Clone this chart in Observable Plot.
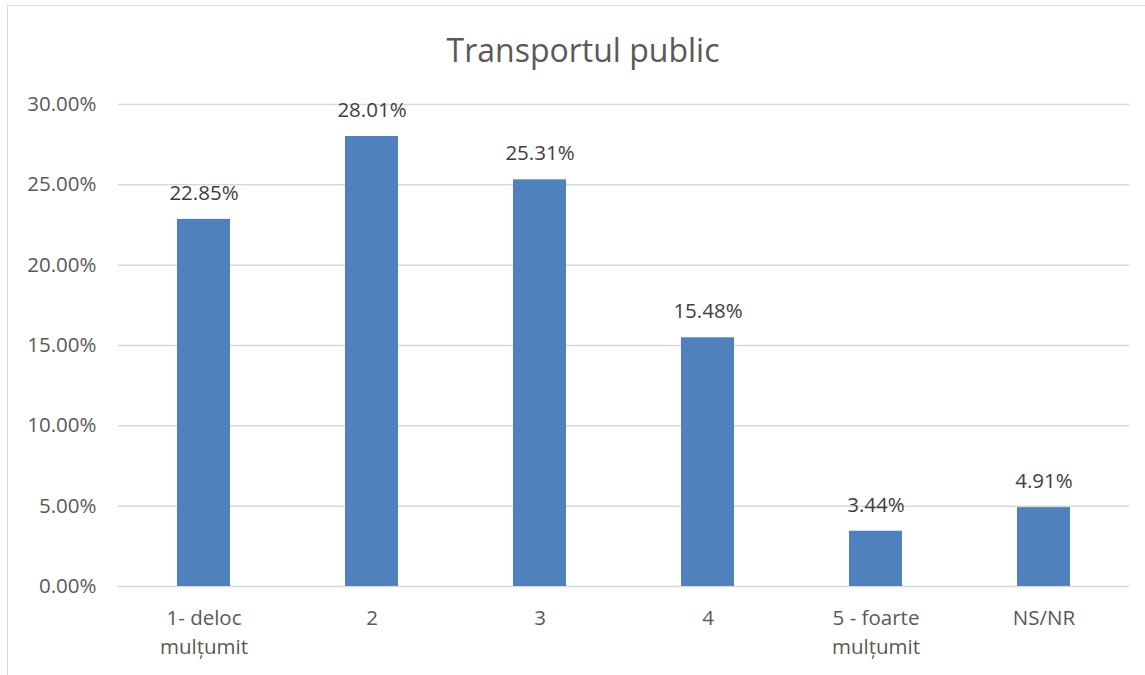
<!DOCTYPE html>
<html>
<head>
<meta charset="utf-8">
<script src="https://cdn.jsdelivr.net/npm/d3@7"></script>
<script src="https://cdn.jsdelivr.net/npm/@observablehq/plot@0.6"></script>
<style>
  html, body { margin: 0; padding: 0; background: #fff; }
  #wrap { position: relative; width: 1145px; height: 675px; overflow: hidden; font-family: "Open Sans", "Noto Sans", sans-serif; }
  #frame { position: absolute; left: 7px; top: 5px; width: 1150px; height: 700px; border-left: 1.5px solid #d9d9d9; border-top: 1.5px solid #d9d9d9; box-sizing: border-box; }
  #title { position: absolute; left: 0; width: 1166px; top: 28px; text-align: center; font-size: 32px; color: #595959; }
  #chart { position: absolute; left: 0; top: 0; }
</style>
</head>
<body>
<div id="wrap">
  <div id="frame"></div>
  <div id="chart"></div>
  <div id="title">Transportul public</div>
</div>
<script>
const categories = ["1- deloc\nmulțumit", "2", "3", "4", "5 - foarte\nmulțumit", "NS/NR"];
const values = [22.85, 28.01, 25.31, 15.48, 3.44, 4.91];
const yTicks = [0, 5, 10, 15, 20, 25, 30];

const data = categories.map((c, i) => ({category: c, value: values[i]}));

const chart = Plot.plot({
  width: 1145,
  height: 675,
  marginTop: 104,
  marginBottom: 89,
  marginLeft: 118,
  marginRight: 16,
  style: {fontFamily: "'Open Sans', 'Noto Sans', sans-serif", background: "transparent"},
  x: {domain: categories, paddingInner: 0.685, paddingOuter: 0.3425, label: null},
  y: {domain: [0, 30], label: null},
  marks: [
    Plot.gridY(yTicks, {stroke: "#d9d9d9", strokeOpacity: 1, strokeWidth: 1.5}),
    Plot.barY(data, {x: "category", y: "value", fill: "#4f81bd"}),
    Plot.text(data, {x: "category", y: "value", text: d => d.value.toFixed(2) + "%", dy: -26, fontSize: 20.5, fill: "#404040", lineAnchor: "middle"}),
    Plot.axisY(yTicks, {tickSize: 0, tickPadding: 22, tickFormat: d => d.toFixed(2) + "%", fontSize: 20.5, fill: "#595959", label: null}),
    Plot.axisX({tickSize: 0, tickPadding: 18, fontSize: 20.5, fill: "#595959", lineHeight: 1.41, label: null, lineAnchor: "top"})
  ]
});
document.getElementById("chart").appendChild(chart);
</script>
</body>
</html>
